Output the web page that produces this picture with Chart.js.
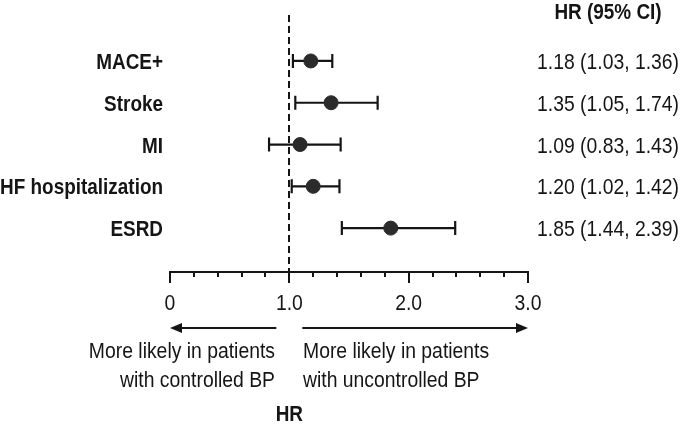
<!DOCTYPE html>
<html>
<head>
<meta charset="utf-8">
<script src="https://cdn.jsdelivr.net/npm/chart.js@4"></script>
<style>
  html, body { margin: 0; padding: 0; background: #fff; }
  #wrap { width: 680px; height: 424px; position: relative; }
</style>
</head>
<body>
<div id="wrap"><canvas id="forest"></canvas></div>
<script>
// Forest plot data (HR with 95% CI)
const outcomes = ['MACE+', 'Stroke', 'MI', 'HF hospitalization', 'ESRD'];
const hr = [1.18, 1.35, 1.09, 1.20, 1.85];
const ciLow = [1.03, 1.05, 0.83, 1.02, 1.44];
const ciHigh = [1.36, 1.74, 1.43, 1.42, 2.39];
const xTickValues = [0, 1, 2, 3];
const xTickLabels = ['0', '1.0', '2.0', '3.0'];
const minorStep = 0.2;
const refLine = 1.0;

const FONT = '"Liberation Sans", Arial, sans-serif';
const INK = '#151515';
const DOT = '#2b2b2b';

const points = hr.map((v, i) => ({ x: v, y: i }));

// condensed-looking text: squeeze horizontally around the anchor
function text(ctx, str, x, y, font, align, sx) {
  ctx.save();
  ctx.font = font;
  ctx.textAlign = align;
  ctx.textBaseline = 'alphabetic';
  ctx.translate(x, y);
  ctx.scale(sx, 1);
  ctx.fillText(str, 0, 0);
  ctx.restore();
}

const BOLD = 'bold 22px ' + FONT;
const REG = '22px ' + FONT;
const BSX = 0.86, RSX = 0.88;

// draws everything around the points: CI bars, reference line, labels, axis
const forestPlugin = {
  id: 'forest',
  beforeDatasetsDraw(chart) {
    const { ctx, chartArea } = chart;
    const xs = chart.scales.x, ys = chart.scales.y;
    ctx.save();

    // dashed reference line at HR = 1
    const rx = Math.round(xs.getPixelForValue(refLine));
    ctx.strokeStyle = INK;
    ctx.lineWidth = 2;
    ctx.setLineDash([7, 4]);
    ctx.beginPath();
    ctx.moveTo(rx, chartArea.top);
    ctx.lineTo(rx, chartArea.bottom);
    ctx.stroke();
    ctx.setLineDash([]);

    // confidence intervals
    ctx.lineWidth = 2.2;
    outcomes.forEach((_, i) => {
      const y = ys.getPixelForValue(i);
      const x1 = xs.getPixelForValue(ciLow[i]);
      const x2 = xs.getPixelForValue(ciHigh[i]);
      ctx.beginPath();
      ctx.moveTo(x1, y); ctx.lineTo(x2, y);
      ctx.moveTo(x1, y - 7); ctx.lineTo(x1, y + 7);
      ctx.moveTo(x2, y - 7); ctx.lineTo(x2, y + 7);
      ctx.stroke();
    });
    ctx.restore();
  },
  afterDraw(chart) {
    const { ctx, chartArea } = chart;
    const xs = chart.scales.x, ys = chart.scales.y;
    ctx.save();
    ctx.fillStyle = INK;
    ctx.strokeStyle = INK;

    // row labels + HR (95% CI) column
    outcomes.forEach((lab, i) => {
      const y = ys.getPixelForValue(i) + 8;
      text(ctx, lab, 163, y, BOLD, 'right', BSX);
      const txt = hr[i].toFixed(2) + ' (' + ciLow[i].toFixed(2) + ', ' + ciHigh[i].toFixed(2) + ')';
      text(ctx, txt, 537, y, REG, 'left', RSX);
    });
    text(ctx, 'HR (95% CI)', 608, 19, BOLD, 'center', BSX);

    // x axis
    const ay = chartArea.bottom;
    const left = xs.getPixelForValue(xTickValues[0]);
    const right = xs.getPixelForValue(xTickValues[xTickValues.length - 1]);
    ctx.lineWidth = 2;
    ctx.beginPath();
    ctx.moveTo(left - 1, ay); ctx.lineTo(right + 1, ay);
    const nMinor = Math.round((xs.max - xs.min) / minorStep);
    for (let k = 0; k <= nMinor; k++) {
      const v = xs.min + k * minorStep;
      const px = Math.round(xs.getPixelForValue(v));
      const major = xTickValues.some(t => Math.abs(t - v) < 1e-6);
      ctx.moveTo(px, ay);
      ctx.lineTo(px, ay + (major ? 11 : 5));
    }
    ctx.stroke();
    xTickValues.forEach((v, i) => text(ctx, xTickLabels[i], xs.getPixelForValue(v), ay + 38, REG, 'center', RSX));

    // direction arrows
    const arrowY = ay + 56;
    const drawArrow = (from, to) => {
      const dir = Math.sign(to - from);
      ctx.beginPath();
      ctx.moveTo(from, arrowY); ctx.lineTo(to - dir * 8, arrowY);
      ctx.stroke();
      ctx.beginPath();
      ctx.moveTo(to, arrowY);
      ctx.lineTo(to - dir * 12, arrowY - 5);
      ctx.lineTo(to - dir * 12, arrowY + 5);
      ctx.closePath();
      ctx.fill();
    };
    ctx.lineWidth = 2;
    drawArrow(xs.getPixelForValue(refLine) - 13, left);
    drawArrow(xs.getPixelForValue(refLine) + 13, right);

    text(ctx, 'More likely in patients', 275, ay + 86, REG, 'right', RSX);
    text(ctx, 'with controlled BP', 275, ay + 115, REG, 'right', RSX);
    text(ctx, 'More likely in patients', 303, ay + 86, REG, 'left', RSX);
    text(ctx, 'with uncontrolled BP', 303, ay + 115, REG, 'left', RSX);

    text(ctx, 'HR', xs.getPixelForValue(refLine), ay + 149, BOLD, 'center', BSX);
    ctx.restore();
  }
};

new Chart(document.getElementById('forest'), {
  type: 'scatter',
  data: {
    datasets: [{
      data: points,
      backgroundColor: DOT,
      borderColor: DOT,
      pointRadius: 7,
      pointHoverRadius: 7
    }]
  },
  options: {
    responsive: true,
    maintainAspectRatio: false,
    animation: false,
    layout: { padding: { left: 170, right: 152, top: 15, bottom: 152 } },
    plugins: { legend: { display: false }, tooltip: { enabled: false } },
    scales: {
      x: { type: 'linear', min: 0, max: 3, display: false },
      y: { type: 'linear', min: -1.1, max: 5.05, reverse: true, display: false }
    }
  },
  plugins: [forestPlugin]
});
</script>
</body>
</html>
